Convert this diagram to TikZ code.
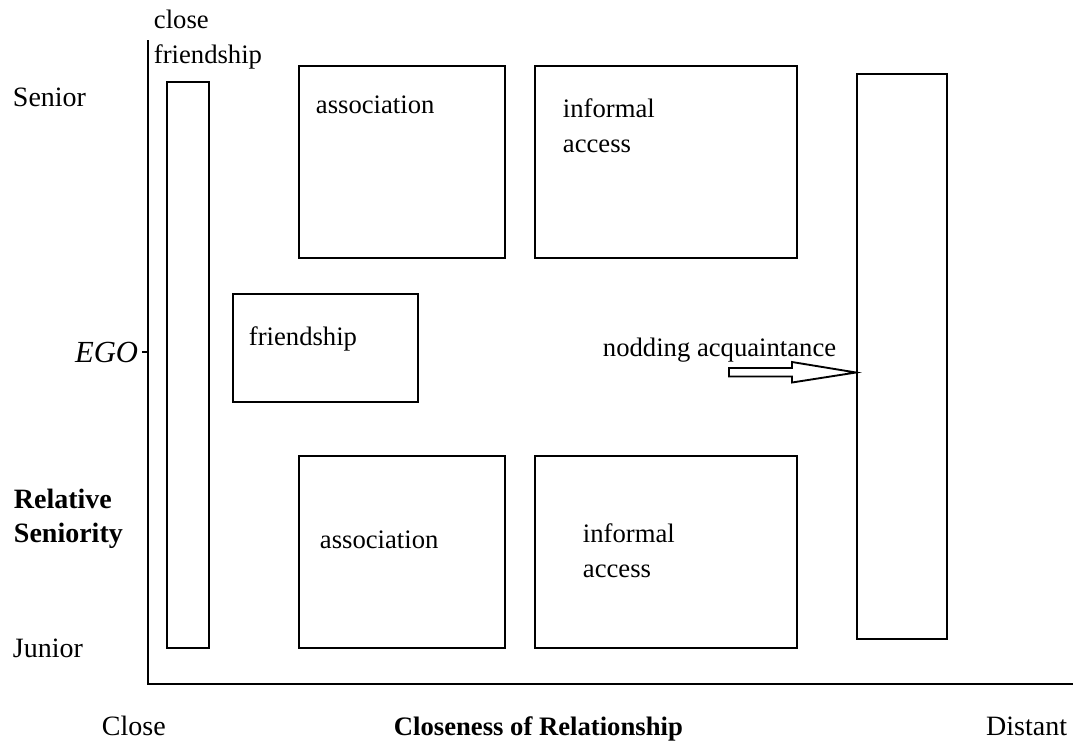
\documentclass[tikz,border=0pt]{standalone}
\usepackage{fontspec}
\setmainfont{Liberation Serif}
\usetikzlibrary{calc}
\tikzset{every picture/.style={line width=1.4pt}}
\tikzset{lbl/.style={anchor=base west,inner sep=0pt,align=left,font=\fontsize{20}{26}\selectfont},
  axlbl/.style={anchor=base west,inner sep=0pt,align=left,font=\fontsize{21}{25}\selectfont}}

\begin{document}
\begin{tikzpicture}[x=0.75pt,y=0.75pt,yscale=-1,xscale=1]
\useasboundingbox (0,0) rectangle (1073,740);

%Straight Lines: axes
\draw    (148,40) -- (148,684) -- (1073,684) ;
%Straight Lines: EGO tick
\draw    (142,352) -- (148,352) ;

%Shape: Rectangle close friendship
\draw   (167,82) rectangle (209,648) ;
%Shape: Rectangle association
\draw   (299,66) rectangle (505,258) ;
%Shape: Rectangle informal access
\draw   (535,66) rectangle (797,258) ;
%Shape: Rectangle friendship
\draw   (233,294) rectangle (418,402) ;
%Shape: Rectangle association
\draw   (299,456) rectangle (505,648) ;
%Shape: Rectangle informal access
\draw   (535,456) rectangle (797,648) ;
%Shape: Rectangle nodding acquaintance
\draw   (857,74) rectangle (947,639) ;

%Shape: Right Arrow
\coordinate (acqtail) at (729,372.5) ;
\coordinate (acqtip) at (856,372.5) ;
\draw   (acqtail) ++(0,-4.5) -- ++(63,0) -- ++(0,-6) -- (acqtip) -- ($(acqtail)+(63,10)$) -- ++(0,-6) -- ++(-63,0) -- cycle ;

% Text Node
\draw (153,63) node [lbl] (closefr) {close\\friendship};
% Text Node
\draw (12,106) node [axlbl] (senior) {Senior};
% Text Node
\draw (315,113) node [lbl] (assoctop) {association};
% Text Node
\draw (562,152) node [lbl] (infotop) {informal\\access};
% Text Node
\draw (248,345) node [lbl] (friend) {friendship};
% Text Node
\draw (139,362) node [axlbl,anchor=base east,font=\fontsize{23}{25}\selectfont] (ego) {\textit{EGO}};
% Text Node
\draw (602,356) node [lbl] (nodding) {nodding acquaintance};
% Text Node
\draw (13,542) node [axlbl] (relsen) {\textbf{Relative}\\\textbf{Seniority}};
% Text Node
\draw (319,548) node [lbl] (assocbot) {association};
% Text Node
\draw (582,577) node [lbl] (infobot) {informal\\access};
% Text Node
\draw (12,657) node [axlbl] (junior) {Junior};
% Text Node
\draw (101,735) node [axlbl] (close) {Close};
% Text Node
\draw (393,735) node [lbl] (closeness) {\textbf{Closeness of Relationship}};
% Text Node
\draw (1068,735) node [axlbl,anchor=base east] (distant) {Distant};

\end{tikzpicture}
\end{document}
